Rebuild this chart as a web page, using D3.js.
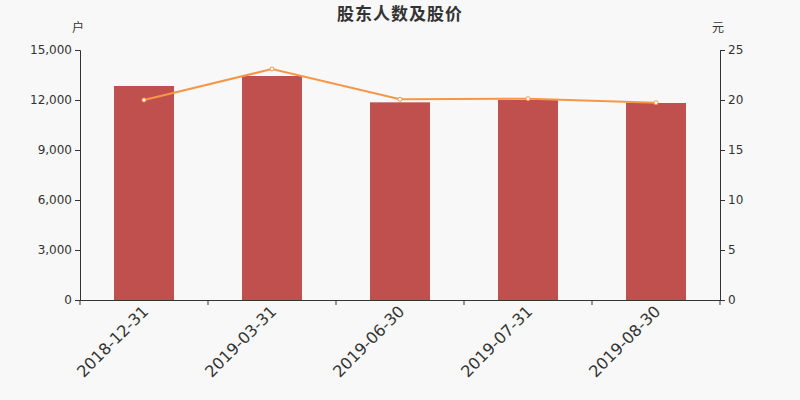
<!DOCTYPE html>
<html>
<head>
<meta charset="utf-8">
<script src="https://cdn.jsdelivr.net/npm/d3@7"></script>
<style>
  body { margin: 0; background: #f8f8f8; }
  svg { display: block; }
</style>
</head>
<body>
<svg id="chart" width="800" height="400"></svg>
<script>
const dates = ['2018-12-31', '2019-03-31', '2019-06-30', '2019-07-31', '2019-08-30']
const holders = [12840, 13440, 11860, 12000, 11820]
const prices = [20.0, 23.1, 20.07, 20.13, 19.73]
const leftTicks = [0, 3000, 6000, 9000, 12000, 15000]
const rightTicks = [0, 5, 10, 15, 20, 25]

const W = 800, H = 400
const margin = { top: 50, right: 80, bottom: 100, left: 80 }
const font = '"DejaVu Sans", sans-serif'
const cjk = '"Noto Sans CJK SC", sans-serif'

const svg = d3.select('#chart')
svg.append('rect').attr('width', W).attr('height', H).attr('fill', '#f8f8f8')

const x = d3.scaleBand()
  .domain(dates)
  .range([margin.left, W - margin.right])

const yL = d3.scaleLinear().domain([0, 15000]).range([H - margin.bottom, margin.top])
const yR = d3.scaleLinear().domain([0, 25]).range([H - margin.bottom, margin.top])

const barW = 60

// bars
svg.append('g').selectAll('rect')
  .data(dates)
  .enter().append('rect')
    .attr('x', d => x(d) + x.bandwidth() / 2 - barW / 2)
    .attr('y', (d, i) => yL(holders[i]))
    .attr('width', barW)
    .attr('height', (d, i) => yL(0) - yL(holders[i]))
    .attr('fill', '#c0504d')

// left axis
const gL = svg.append('g')
  .attr('transform', `translate(${margin.left},0)`)
  .call(d3.axisLeft(yL).tickValues(leftTicks).tickFormat(d3.format(',')).tickSizeOuter(0).tickSize(5))
gL.attr('font-family', font)
gL.select('.domain').attr('stroke', '#333')
gL.selectAll('.tick line').attr('stroke', '#333')
gL.selectAll('text').attr('fill', '#333').style('font-size', '12px')

// right axis
const gR = svg.append('g')
  .attr('transform', `translate(${W - margin.right},0)`)
  .call(d3.axisRight(yR).tickValues(rightTicks).tickSizeOuter(0).tickSize(5))
gR.attr('font-family', font)
gR.select('.domain').attr('stroke', '#333')
gR.selectAll('.tick line').attr('stroke', '#333')
gR.selectAll('text').attr('fill', '#333').style('font-size', '12px')

// bottom axis
const gB = svg.append('g')
  .attr('transform', `translate(0,${H - margin.bottom})`)
  .call(d3.axisBottom(x).tickSize(0).tickSizeOuter(0))
gB.attr('font-family', font)
gB.select('.domain').attr('stroke', '#333')
gB.selectAll('.tick line').remove()
gB.selectAll('text')
  .attr('fill', '#333')
  .style('font-size', '16px')
  .attr('text-anchor', 'end')
  .attr('x', -5)
  .attr('y', 3)
  .attr('dy', '0.6em')
  .attr('transform', 'rotate(-45)')

// category boundary ticks
const bounds = dates.map(d => x(d)).concat([W - margin.right])
svg.append('g').selectAll('line')
  .data(bounds)
  .enter().append('line')
    .attr('x1', d => d).attr('x2', d => d)
    .attr('y1', H - margin.bottom).attr('y2', H - margin.bottom + 5)
    .attr('stroke', '#333')

// price line
const line = d3.line()
  .x((d, i) => x(dates[i]) + x.bandwidth() / 2)
  .y(d => yR(d))

svg.append('path')
  .datum(prices)
  .attr('d', line)
  .attr('fill', 'none')
  .attr('stroke', '#f79646')
  .attr('stroke-width', 2)

svg.append('g').selectAll('circle')
  .data(prices)
  .enter().append('circle')
    .attr('cx', (d, i) => x(dates[i]) + x.bandwidth() / 2)
    .attr('cy', d => yR(d))
    .attr('r', 2)
    .attr('fill', '#fff')
    .attr('stroke', '#f79646')
    .attr('stroke-width', 1)

// titles
svg.append('text')
  .attr('x', W / 2).attr('y', 20)
  .attr('text-anchor', 'middle')
  .attr('fill', '#333')
  .style('font-size', '17px')
  .style('font-weight', 'bold')
  .style('font-family', cjk)
  .style('letter-spacing', '1px')
  .text('股东人数及股价')

svg.append('text')
  .attr('x', margin.left - 2).attr('y', 32)
  .attr('text-anchor', 'middle')
  .attr('fill', '#333')
  .style('font-size', '12px')
  .style('font-family', cjk)
  .text('户')

svg.append('text')
  .attr('x', W - margin.right - 2).attr('y', 32)
  .attr('text-anchor', 'middle')
  .attr('fill', '#333')
  .style('font-size', '12px')
  .style('font-family', cjk)
  .text('元')
</script>
</body>
</html>
